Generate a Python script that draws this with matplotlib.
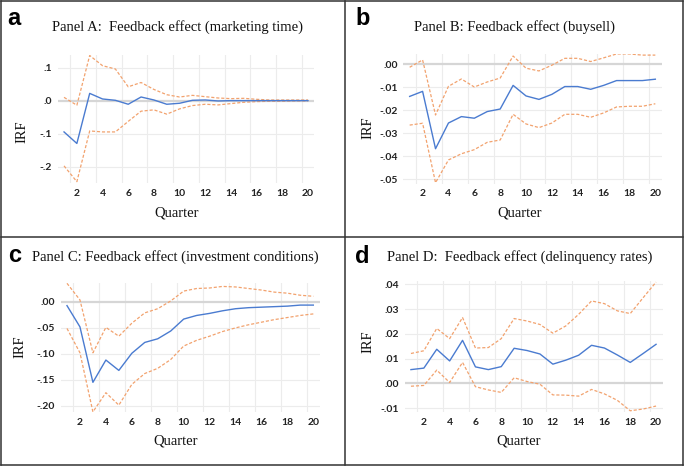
import matplotlib
matplotlib.use("Agg")
import matplotlib.pyplot as plt
from matplotlib.lines import Line2D

quarters = list(range(1, 21))

# Panel A: marketing time
a_irf = [-0.095, -0.130, 0.022, 0.005, 0.001, -0.011, 0.011, 0.002, -0.011, -0.008,
         0.001, 0.002, -0.001, 0.000, 0.000, 0.000, 0.000, 0.000, 0.000, 0.000]
a_up = [0.010, -0.014, 0.137, 0.106, 0.096, 0.042, 0.055, 0.034, 0.018, 0.011,
        0.016, 0.012, 0.008, 0.006, 0.007, 0.004, 0.002, 0.002, 0.002, 0.002]
a_lo = [-0.198, -0.246, -0.092, -0.095, -0.095, -0.063, -0.032, -0.028, -0.041, -0.025,
        -0.015, -0.011, -0.013, -0.009, -0.005, -0.003, -0.002, -0.002, -0.001, -0.001]

# Panel B: buysell
b_irf = [-0.0140, -0.0118, -0.0368, -0.0256, -0.0228, -0.0235, -0.0206, -0.0195, -0.0092, -0.0138,
         -0.0153, -0.0131, -0.0097, -0.0097, -0.0109, -0.0092, -0.0071, -0.0071, -0.0071, -0.0065]
b_up = [-0.0013, 0.0019, -0.0221, -0.0096, -0.0064, -0.0099, -0.0077, -0.0060, 0.0036, -0.0017,
        -0.0029, -0.0004, 0.0026, 0.0026, 0.0012, 0.0028, 0.0045, 0.0045, 0.0040, 0.0040]
b_lo = [-0.0265, -0.0257, -0.0516, -0.0417, -0.0390, -0.0372, -0.0340, -0.0330, -0.0218, -0.0260,
        -0.0276, -0.0256, -0.0218, -0.0218, -0.0231, -0.0212, -0.0186, -0.0183, -0.0183, -0.0172]

# Panel C: investment conditions
c_irf = [-0.007, -0.048, -0.155, -0.112, -0.132, -0.099, -0.078, -0.071, -0.056, -0.033,
         -0.026, -0.022, -0.017, -0.013, -0.011, -0.010, -0.009, -0.008, -0.006, -0.006]
c_up = [0.036, 0.004, -0.098, -0.049, -0.066, -0.041, -0.021, -0.013, 0.002, 0.021,
        0.026, 0.027, 0.030, 0.029, 0.026, 0.023, 0.019, 0.017, 0.013, 0.011]
c_lo = [-0.051, -0.098, -0.212, -0.175, -0.199, -0.159, -0.138, -0.128, -0.111, -0.085,
        -0.074, -0.066, -0.057, -0.050, -0.044, -0.039, -0.034, -0.030, -0.026, -0.023]

# Panel D: delinquency rates
d_irf = [0.0056, 0.0062, 0.0138, 0.0091, 0.0174, 0.0067, 0.0056, 0.0068, 0.0142, 0.0133,
         0.0119, 0.0078, 0.0094, 0.0114, 0.0154, 0.0143, 0.0115, 0.0085, 0.0121, 0.0158]
d_up = [0.0121, 0.0132, 0.0222, 0.0181, 0.0266, 0.0143, 0.0145, 0.0181, 0.0262, 0.0252,
        0.0238, 0.0203, 0.0232, 0.0279, 0.0333, 0.0322, 0.0293, 0.0282, 0.0346, 0.0409]
d_lo = [-0.0011, -0.0008, 0.0054, 0.0004, 0.0085, -0.0013, -0.0026, -0.0036, 0.0023, 0.0008,
        -0.0003, -0.0046, -0.0047, -0.0051, -0.0024, -0.0042, -0.0068, -0.0110, -0.0103, -0.0091]

titles = ["Panel A:  Feedback effect (marketing time)",
          "Panel B: Feedback effect (buysell)",
          "Panel C: Feedback effect (investment conditions)",
          "Panel D:  Feedback effect (delinquency rates)"]
letters = ["a", "b", "c", "d"]
a_ticks = [0.1, 0.0, -0.1, -0.2]
b_ticks = [0.0, -0.01, -0.02, -0.03, -0.04, -0.05]
c_ticks = [0.0, -0.05, -0.10, -0.15, -0.20]
d_ticks = [0.04, 0.03, 0.02, 0.01, 0.0, -0.01]
x_ticks = list(range(2, 21, 2))

W, H = 685, 467
fig = plt.figure(figsize=(6.85, 4.67), dpi=100)

def fx(px):
    return px / W

def fy(py):
    return 1 - py / H

serif = "Liberation Serif"
blue = "#4a7bd0"
orange = "#f2a26e"

panels = [
    # data, ticks, decimals, ylim, axes box (px: left, top, right, bottom), text anchors
    dict(irf=a_irf, up=a_up, lo=a_lo, ticks=a_ticks, dec=1, ylim=(-0.25, 0.14),
         box=(57.6, 54.5, 314.4, 183), title=(178, 27), irf_lab=(22, 132), q=(177, 213),
         letter=(7, 25)),
    dict(irf=b_irf, up=b_up, lo=b_lo, ticks=b_ticks, dec=2, ylim=(-0.052, 0.0047),
         box=(403.2, 53.5, 661.8, 183.6), title=(515, 27), irf_lab=(368, 128), q=(520, 213),
         letter=(355, 25)),
    dict(irf=c_irf, up=c_up, lo=c_lo, ticks=c_ticks, dec=2, ylim=(-0.213, 0.037),
         box=(60.5, 282.8, 319.8, 412.4), title=(175, 257), irf_lab=(20, 347), q=(176, 441),
         letter=(8, 262)),
    dict(irf=d_irf, up=d_up, lo=d_lo, ticks=d_ticks, dec=2, ylim=(-0.0115, 0.0415),
         box=(404.5, 280.6, 662.5, 412), title=(520, 257), irf_lab=(368, 342), q=(519, 441),
         letter=(355, 263)),
]

for i, p in enumerate(panels):
    l, t, r, b = p["box"]
    ax = fig.add_axes([fx(l), fy(b), fx(r - l), (b - t) / H])
    ax.set_xlim(0.5, 20.5)
    ax.set_ylim(*p["ylim"])
    for s in ax.spines.values():
        s.set_visible(False)
    # grid
    for gx in [k + 0.5 for k in range(1, 20, 2)]:
        ax.axvline(gx, color="#ececec", lw=0.8, zorder=0)
    for gy in p["ticks"]:
        if gy == 0:
            ax.axhline(0, color="#d6d6d6", lw=1.6, zorder=1)
        else:
            ax.axhline(gy, color="#ececec", lw=0.8, zorder=0)
    ax.plot(quarters, p["up"], color=orange, lw=0.9, ls=(0, (2.5, 1.5)), zorder=3)
    ax.plot(quarters, p["lo"], color=orange, lw=0.9, ls=(0, (2.5, 1.5)), zorder=3)
    ax.plot(quarters, p["irf"], color=blue, lw=1.0, zorder=4)

    ax.set_xticks(x_ticks)
    ax.set_xticklabels([str(v) for v in x_ticks])
    ax.set_yticks(p["ticks"])
    ax.set_yticklabels([f"{v:.{p['dec']}f}".replace("0.", ".", 1) for v in p["ticks"]])
    ax.tick_params(length=0, labelsize=7.5, pad=4, colors="#222222")
    for lab in ax.get_xticklabels() + ax.get_yticklabels():
        lab.set_fontfamily("Lato")
        lab.set_fontweight("bold")

    fig.text(fx(p["title"][0]), fy(p["title"][1]), titles[i], family=serif, fontsize=10.5,
             ha="center", va="center", color="#111111")
    fig.text(fx(p["irf_lab"][0]), fy(p["irf_lab"][1]), "IRF", family=serif, fontsize=10.5,
             rotation=90, ha="center", va="center", color="#111111")
    fig.text(fx(p["q"][0]), fy(p["q"][1]), "Quarter", family=serif, fontsize=10.5,
             ha="center", va="center", color="#111111")
    fig.text(fx(p["letter"][0]), fy(p["letter"][1]), letters[i], family="Liberation Sans",
             fontsize=17, fontweight="bold", ha="left", va="baseline", color="black")

# panel borders
border = "#333333"
for (x0, y0, x1, y1) in [(1, 1, 683, 1), (1, 465, 683, 465), (1, 1, 1, 465), (683, 1, 683, 465),
                         (345, 1, 345, 465), (1, 237, 683, 237)]:
    fig.add_artist(Line2D([fx(x0), fx(x1)], [fy(y0), fy(y1)], color=border, lw=1.1,
                          transform=fig.transFigure))

fig.savefig("out.png", dpi=100)
